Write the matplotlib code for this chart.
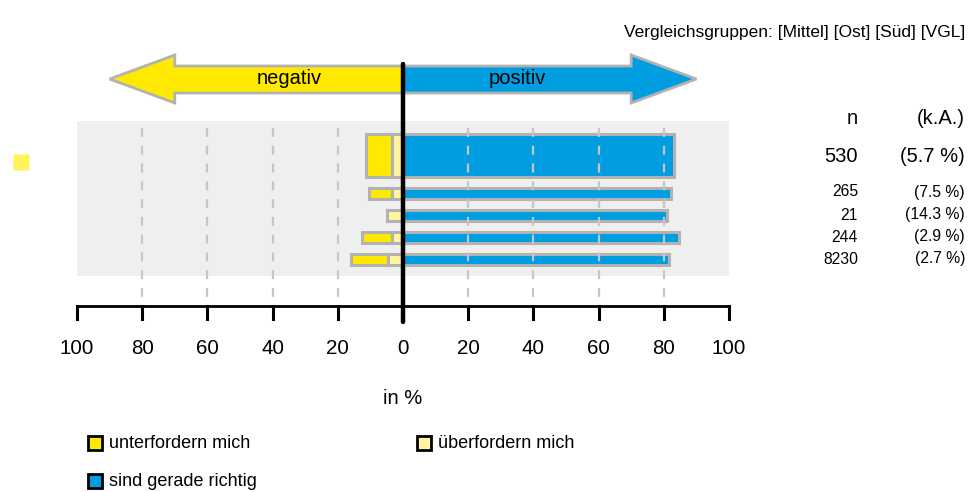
import matplotlib
matplotlib.use("Agg")
import matplotlib.pyplot as plt
from matplotlib.patches import Polygon, Rectangle

plt.rcParams["font.family"] = ["Liberation Sans", "DejaVu Sans"]

# data (percent)
groups = ["Gesamt", "Mittel", "Ost", "Süd", "VGL"]
unterfordern = [7.9, 7.1, 0.0, 9.2, 11.4]
ueberfordern = [3.3, 3.4, 4.8, 3.4, 4.6]
richtig = [83.1, 82.1, 81.0, 84.7, 81.6]
n_values = ["530", "265", "21", "244", "8230"]
ka_values = ["(5.7 %)", "(7.5 %)", "(14.3 %)", "(2.9 %)", "(2.7 %)"]
tick_values = [100, 80, 60, 40, 20, 0, 20, 40, 60, 80, 100]
tick_pos = [-100, -80, -60, -40, -20, 0, 20, 40, 60, 80, 100]

YELLOW = "#FFE900"
LIGHT_YELLOW = "#FFF59E"
BLUE = "#009DE0"
EDGE = "#B2B2B2"

W, H = 973, 492
fig = plt.figure(figsize=(W / 100, H / 100), dpi=100, facecolor="white")
ax = fig.add_axes([0, 0, 1, 1])
# x in percent (0 at px 403, 3.26 px per %), y in pixels from top
px_per = 3.26
x0 = 403
ax.set_xlim(-x0 / px_per, (W - x0) / px_per)
ax.set_ylim(H, 0)
ax.axis("off")

# background panel
ax.add_patch(Rectangle((-100, 121), 200, 155, facecolor="#EFEFEF", edgecolor="none", zorder=0))

# bars
row_y = [155.5, 193.5, 215, 237, 259.5]
row_h = [43, 11, 11, 11, 11]
for i in range(len(groups)):
    u, o, r = unterfordern[i], ueberfordern[i], richtig[i]
    y, h = row_y[i], row_h[i]
    if u > 0:
        ax.barh(y, -u, left=-o, height=h, color=YELLOW, edgecolor=EDGE, linewidth=2.2, zorder=2)
    ax.barh(y, -o, left=0, height=h, color=LIGHT_YELLOW, edgecolor=EDGE, linewidth=2.2, zorder=2)
    ax.barh(y, r, left=0, height=h, color=BLUE, edgecolor=EDGE, linewidth=2.2, zorder=2)

# dashed grid
for xv in [-80, -60, -40, -20, 20, 40, 60, 80]:
    ax.plot([xv, xv], [128, 306], color="#C6C6C6", lw=1.6, ls=(0, (4, 4)), zorder=3)

# arrows
left_arrow = Polygon([(0, 66), (-70, 66), (-70, 55), (-90, 79), (-70, 103), (-70, 93), (0, 93)],
                     closed=True, facecolor=YELLOW, edgecolor=EDGE, lw=2, zorder=4)
right_arrow = Polygon([(0, 66), (70, 66), (70, 55), (90, 79), (70, 103), (70, 93), (0, 93)],
                      closed=True, facecolor=BLUE, edgecolor=EDGE, lw=2, zorder=4)
ax.add_patch(left_arrow)
ax.add_patch(right_arrow)
ax.text(-35, 79, "negativ", ha="center", va="center", fontsize=14.5, zorder=5)
ax.text(35, 79, "positiv", ha="center", va="center", fontsize=14.5, zorder=5)

# axis line and ticks
ax.plot([-100, 100], [306, 306], color="black", lw=2.0, zorder=4)
for tp, tv in zip(tick_pos, tick_values):
    ax.plot([tp, tp], [306, 319], color="black", lw=2.2, zorder=4)
    ax.text(tp, 348, str(tv), ha="center", va="center", fontsize=14.8)
ax.plot([0, 0], [64, 322], color="black", lw=3.2, solid_capstyle="round", zorder=6)
ax.text(0, 398, "in %", ha="center", va="center", fontsize=14.5)

# left marker
ax.plot([(21 - x0) / px_per], [162], marker="s", ms=11.5, color="#FFF35C", mec="none",
        linestyle="none", clip_on=False)

# right hand columns
xn = (858 - x0) / px_per
xk = (965 - x0) / px_per
ax.text(xn, 118, "n", ha="right", va="center", fontsize=14.5)
ax.text(xk, 118, "(k.A.)", ha="right", va="center", fontsize=14.5)
for i in range(len(groups)):
    fs = 14.5 if i == 0 else 11.3
    yy = [157, 192, 215, 237, 259][i]
    ax.text(xn, yy, n_values[i], ha="right", va="center", fontsize=fs)
    ax.text(xk, yy, ka_values[i], ha="right", va="center", fontsize=fs)

ax.text(xk, 32, "Vergleichsgruppen: [Mittel] [Ost] [Süd] [VGL]", ha="right", va="center", fontsize=12.5)

# legend
legend_items = [
    ("unterfordern mich", YELLOW, 95, 443),
    ("überfordern mich", LIGHT_YELLOW, 424, 443),
    ("sind gerade richtig", BLUE, 95, 481),
]
for label, col, lx, ly in legend_items:
    xx = (lx - x0) / px_per
    ax.plot([xx], [ly], marker="s", ms=9.5, color=col, mec="black", mew=2.0, linestyle="none")
    ax.text(xx + 4.3, ly, label, ha="left", va="center", fontsize=13)

fig.savefig("out.png", dpi=100, facecolor="white")
